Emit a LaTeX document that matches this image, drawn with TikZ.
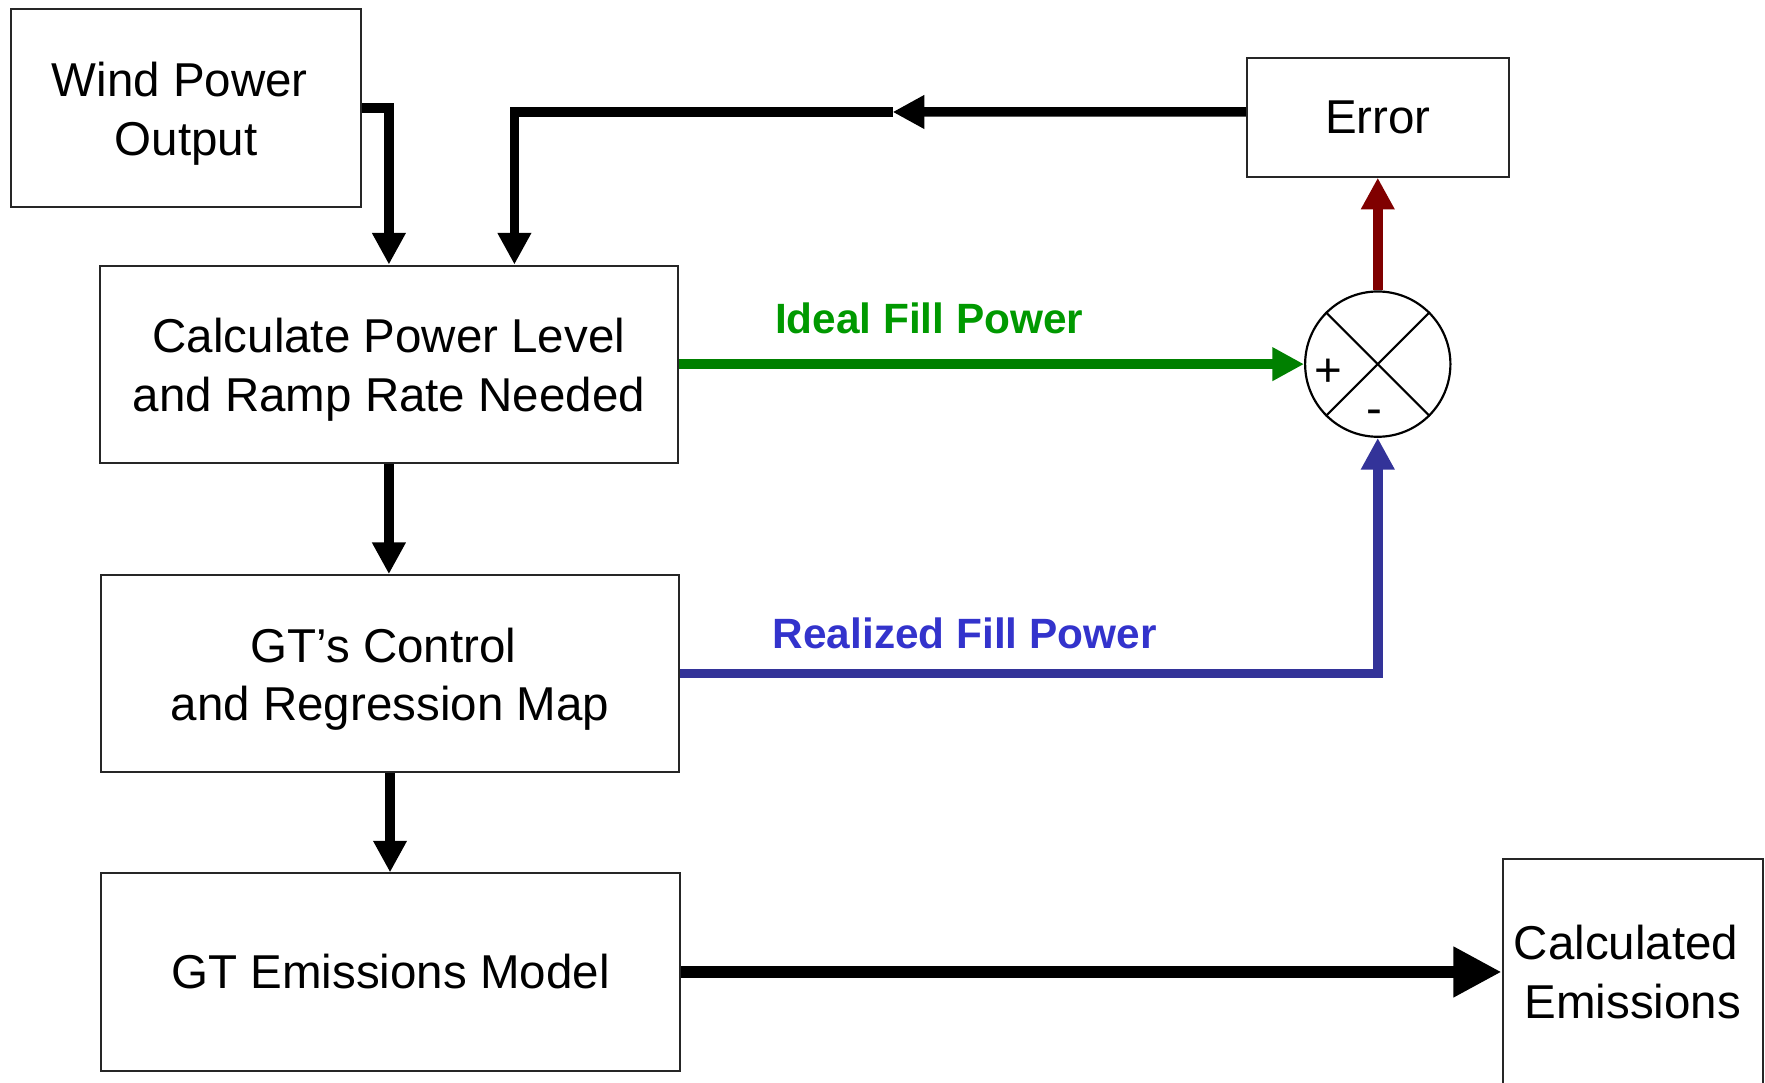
\documentclass[tikz,border=0pt]{standalone}
\usepackage{fontspec}
\setmainfont{Liberation Sans}
\usetikzlibrary{arrows.meta}
\definecolor{idealline}{RGB}{0,128,0}
\definecolor{idealtext}{RGB}{0,153,0}
\definecolor{realline}{RGB}{51,51,153}
\definecolor{realtext}{RGB}{51,51,204}
\definecolor{errline}{RGB}{128,0,0}
\newcommand{\trailsp}{\hspace*{0.117cm}}
\tikzset{
  blockbox/.style={draw=black!85, line width=0.5pt, align=center, inner sep=0pt,
    font=\fontsize{12}{14.8}\selectfont},
  boxtext/.style={align=center, inner sep=0pt, font=\fontsize{12}{14.8}\selectfont},
  flow/.style={line width=2.4pt, line join=miter,
    -{Triangle[length=8pt,width=8pt]}},
  bigflow/.style={line width=3.2pt, -{Triangle[length=12.2pt,width=12pt]}},
  sigtext/.style={font=\fontsize{10.7}{12}\selectfont\bfseries, inner sep=0pt, anchor=base},
  signtext/.style={font=\fontsize{12}{14}\selectfont, inner sep=0pt, anchor=base}
}
\begin{document}
\begin{tikzpicture}[x=0.01cm, y=-0.01cm]
\useasboundingbox (0,0) rectangle (1568,962);

% blocks
\node[blockbox, minimum width=3.11cm, minimum height=1.76cm] (wind) at (165.5,96) {};
\node[boxtext] (windtxt) at ([yshift=-0.05cm]wind.center) {Wind Power\trailsp\\Output};
\node[blockbox, minimum width=5.13cm, minimum height=1.75cm] (calc) at (345.5,323.5) {};
\node[boxtext] (calctxt) at ([yshift=-0.05cm]calc.center)
  {Calculate Power Level\\and Ramp Rate Needed};
\node[blockbox, minimum width=5.13cm, minimum height=1.75cm] (gtc) at (346.5,598.5) {};
\node[boxtext] (gtctxt) at ([yshift=-0.05cm]gtc.center)
  {GT’s Control\trailsp\\and Regression Map};
\node[blockbox, minimum width=5.14cm, minimum height=1.75cm] (gte) at (347,863.5)
  {GT Emissions Model};
\node[blockbox, minimum width=2.325cm, minimum height=1.05cm] (err) at (1224,104.5)
  {Error};
\node[blockbox, minimum width=2.31cm, minimum height=2.01cm] (calcem) at (1450.5,863.5)
  {Calculated\trailsp\\Emissions};

% summing junction
\node[draw=black, line width=0.55pt, circle, minimum size=1.29cm, inner sep=0pt] (sum) at (1224,323.5) {};
\draw[line width=0.55pt] (sum.north west) -- (sum.south east);
\draw[line width=0.55pt] (sum.north east) -- (sum.south west);
\node[signtext] (plus) at (1180.5,343.6) {+};
\node[signtext] (minus) at (1221,377) {-};

% forward path
\draw[flow] (wind.east) -| (calc.north);
\draw[flow] (calc.south) -- (calc.south |- gtc.north);
\draw[flow] (gtc.south) -- (gtc.south |- gte.north);
\draw[bigflow] (gte.east) -- (calcem.west);

% feedback from the error block
\coordinate (fbmid) at (793,99.5);
\coordinate (fbturn) at (457,99.5);
\draw[flow] ([yshift=0.05cm]err.west) -- (fbmid);
\draw[flow] (fbmid) -- (fbturn) -- (fbturn |- calc.north);

% signals into and out of the junction
\draw[flow, idealline] (calc.east) -- (sum.west);
\draw[flow, realline] (gtc.east) -| (sum.south);
\draw[flow, errline] (sum.north) -- (err.south);

% signal labels
\node[sigtext, text=idealtext] (lideal) at (825.5,296) {Ideal Fill Power};
\node[sigtext, text=realtext] (lreal) at (857,576.5) {Realized Fill Power};
\end{tikzpicture}
\end{document}
